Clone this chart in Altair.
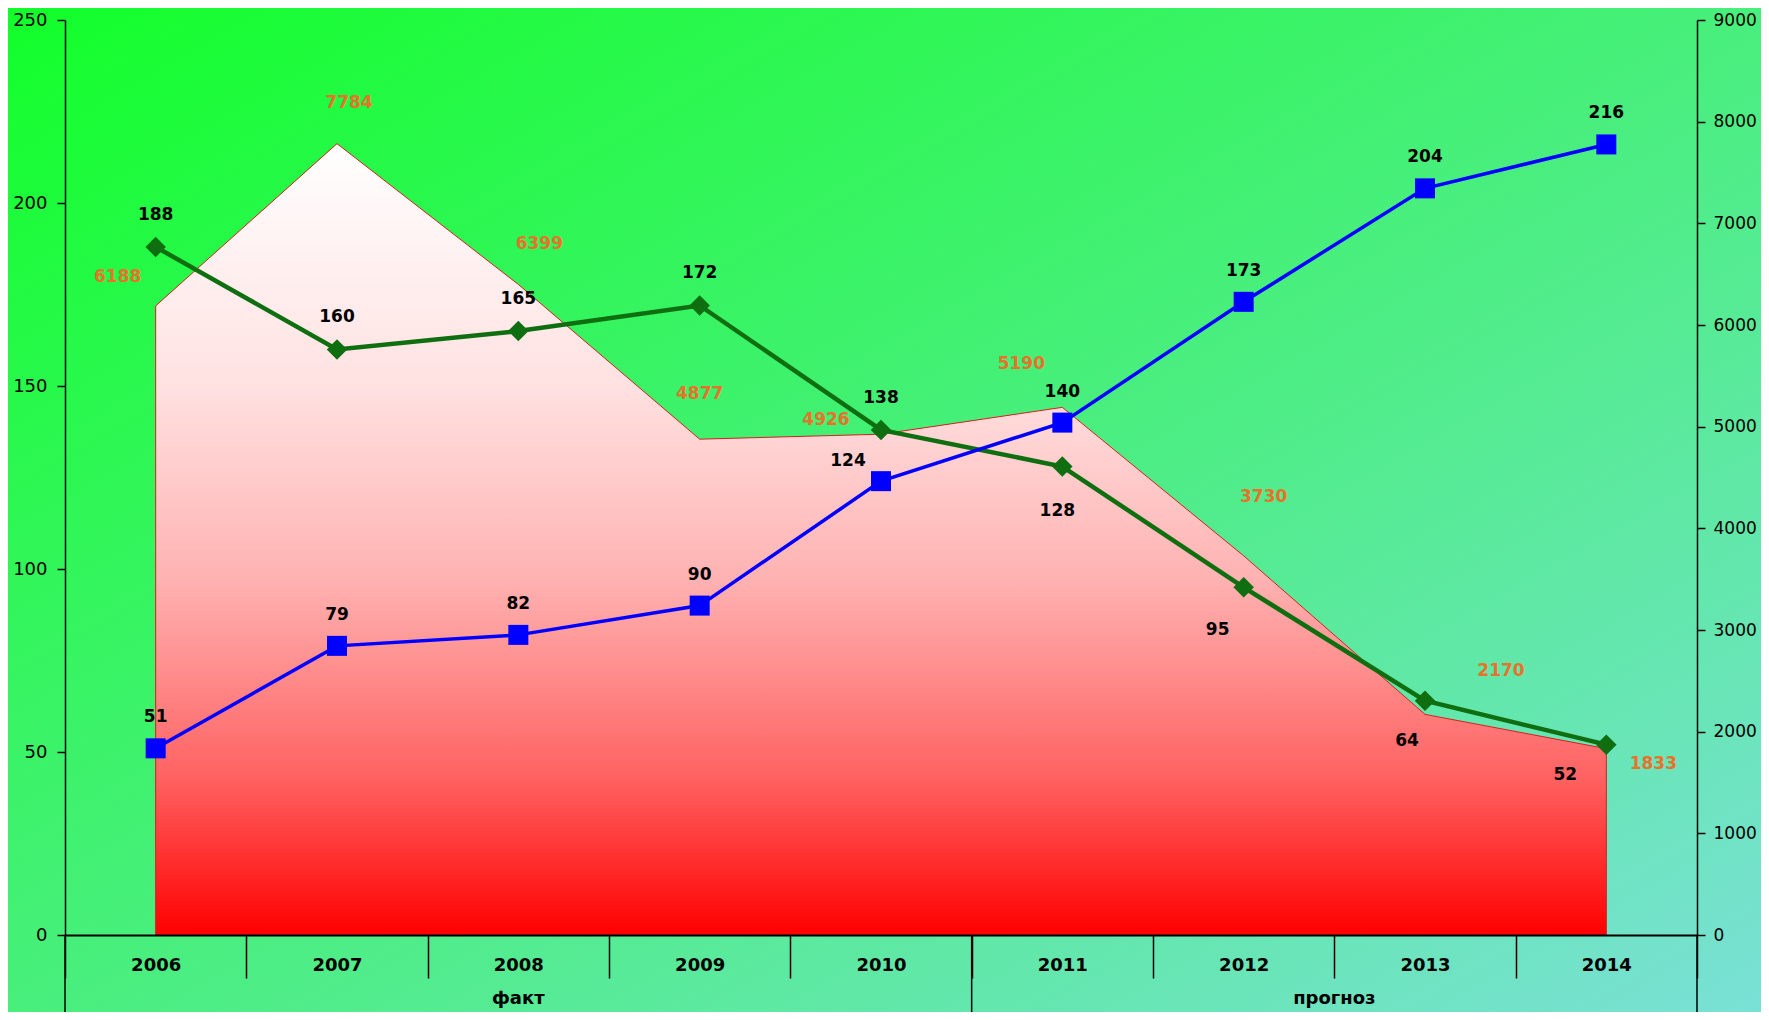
import altair as alt
import pandas as pd

# ---------------- data ----------------
years = ["2006", "2007", "2008", "2009", "2010", "2011", "2012", "2013", "2014"]
area_values = [6188, 7784, 6399, 4877, 4926, 5190, 3730, 2170, 1833]
blue_values = [51, 79, 82, 90, 124, 140, 173, 204, 216]
green_values = [188, 160, 165, 172, 138, 128, 95, 64, 52]
period_names = ["факт", "прогноз"]
left_ticks = [0, 50, 100, 150, 200, 250]
right_ticks = [0, 1000, 2000, 3000, 4000, 5000, 6000, 7000, 8000, 9000]

df = pd.DataFrame({"year": years, "area": area_values,
                   "blue": blue_values, "green": green_values})

# ---------------- layout / style ----------------
W, H = 1632, 915
PAD = {"left": 57, "top": 12, "right": 64, "bottom": 77}
FONT = "DejaVu Sans"
ORANGE = "#e8722a"
BLUE = "#0000ff"
GREEN = "#0f6e0f"

# label nudges (dx, dy) in pixels
blue_nudges = {"2010": (-33, -20)}
blue_default = (0, -31)
green_nudges = {"2011": (-5, 44), "2012": (-26, 43), "2013": (-18, 40), "2014": (-41, 30)}
green_default = (0, -32)
area_nudges = {"2006": (-38, -29), "2007": (12, -41), "2008": (21, -40), "2009": (0, -45),
               "2010": (-55, -14), "2011": (-41, -43), "2012": (20, -59),
               "2013": (76, -43), "2014": (47, 15)}
area_default = (0, -30)

x_axis = alt.Axis(orient="bottom", title=None, tickBand="extent", tickSize=43,
                  tickWidth=1.5, tickColor="black", domainColor="black", domainWidth=2,
                  labelAngle=0, labelFont=FONT, labelFontWeight="bold", labelFontSize=18,
                  labelColor="black", labelBaseline="middle", labelPadding=-13,
                  labelOverlap=False, grid=False, zindex=1)
x_scale = alt.Scale(type="band", domain=years, paddingInner=0, paddingOuter=0)


def xenc(band=0.5):
    return alt.X("year:O", scale=x_scale, bandPosition=band, axis=x_axis, title=None)


left_axis = alt.Axis(orient="left", title=None, values=left_ticks, tickSize=8,
                     tickColor="black", tickWidth=1.5, domainColor="black", domainWidth=1.5,
                     labelFont=FONT, labelFontSize=18, labelColor="black", format="d",
                     labelPadding=10, grid=False, zindex=1)
right_axis = alt.Axis(orient="right", title=None, values=right_ticks, tickSize=8,
                      tickColor="black", tickWidth=1.5, domainColor="black", domainWidth=1.5,
                      labelFont=FONT, labelFontSize=17, labelColor="black", format="d",
                      labelPadding=8, grid=False, zindex=1)
left_scale = alt.Scale(domain=[0, 250], nice=False, zero=True)
right_scale = alt.Scale(domain=[0, 9000], nice=False, zero=True)


def yleft(field):
    return alt.Y(f"{field}:Q", scale=left_scale, axis=left_axis, title=None)


def yright(field):
    return alt.Y(f"{field}:Q", scale=right_scale, axis=right_axis, title=None)


def label_layers(field, color, nudges, default, yfn):
    groups = {}
    for yr in years:
        groups.setdefault(nudges.get(yr, default), []).append(yr)
    out = []
    for (dx, dy), yrs in groups.items():
        out.append(
            alt.Chart(df)
            .transform_filter(alt.FieldOneOfPredicate(field="year", oneOf=yrs))
            .mark_text(dx=dx, dy=dy, font=FONT, fontWeight="bold", fontSize=17,
                       color=color, align="center", baseline="middle")
            .encode(x=xenc(), y=yfn(field), text=alt.Text(f"{field}:Q", format="d"))
        )
    return out


# ---------------- background ----------------
bg_gradient = alt.LinearGradient(
    gradient="linear", x1=0, y1=0, x2=1, y2=1,
    stops=[alt.GradientStop(color="#12ff2a", offset=0),
           alt.GradientStop(color="#48ef7c", offset=0.5),
           alt.GradientStop(color="#7ae0d6", offset=1)])
background = alt.Chart(pd.DataFrame({"k": [0]})).mark_rect(fill=bg_gradient, strokeWidth=0).encode(
    x=alt.value(-PAD["left"]), x2=alt.value(W + PAD["right"]),
    y=alt.value(-PAD["top"]), y2=alt.value(H + PAD["bottom"]))

# ---------------- area (right axis) ----------------
area_gradient = alt.LinearGradient(
    gradient="linear", x1=0, y1=0, x2=0, y2=1,
    stops=[alt.GradientStop(color="#ffffff", offset=0),
           alt.GradientStop(color="#ffe2e2", offset=0.3),
           alt.GradientStop(color="#ffb2b2", offset=0.55),
           alt.GradientStop(color="#ff6262", offset=0.8),
           alt.GradientStop(color="#ff0000", offset=1)])
area = alt.Chart(df).mark_area(fill=area_gradient, stroke="#d81e1e", strokeWidth=1,
                               opacity=1).encode(x=xenc(), y=yright("area"))
right_group = alt.layer(area, *label_layers("area", ORANGE, area_nudges, area_default, yright))

# ---------------- lines (left axis) ----------------
blue_line = alt.Chart(df).mark_line(color=BLUE, strokeWidth=3.5).encode(x=xenc(), y=yleft("blue"))
blue_pts = alt.Chart(df).mark_point(shape="square", filled=True, size=400, color=BLUE,
                                    opacity=1).encode(x=xenc(), y=yleft("blue"))
green_line = alt.Chart(df).mark_line(color=GREEN, strokeWidth=4.5).encode(x=xenc(), y=yleft("green"))
green_pts = alt.Chart(df).mark_point(shape="diamond", filled=True, size=420, color=GREEN,
                                     opacity=1).encode(x=xenc(), y=yleft("green"))
left_group = alt.layer(
    green_line, blue_line, green_pts, blue_pts,
    *label_layers("blue", "black", blue_nudges, blue_default, yleft),
    *label_layers("green", "black", green_nudges, green_default, yleft))

# ---------------- separators and group labels ----------------
sep_start = pd.DataFrame({"year": [years[0], years[5]]})
sep_end = pd.DataFrame({"year": [years[-1]]})
rule_start = alt.Chart(sep_start).mark_rule(color="black", strokeWidth=1.5).encode(
    x=xenc(0), y=alt.value(H), y2=alt.value(H + PAD["bottom"]))
rule_end = alt.Chart(sep_end).mark_rule(color="black", strokeWidth=1.5).encode(
    x=xenc(1), y=alt.value(H), y2=alt.value(H + PAD["bottom"]))

grp1 = alt.Chart(pd.DataFrame({"year": [years[2]], "name": [period_names[0]]})).mark_text(
    font=FONT, fontWeight="bold", fontSize=18, color="black", baseline="middle", align="center"
).encode(x=xenc(0.5), y=alt.value(H + 64), text="name:N")
grp2 = alt.Chart(pd.DataFrame({"year": [years[6]], "name": [period_names[1]]})).mark_text(
    font=FONT, fontWeight="bold", fontSize=18, color="black", baseline="middle", align="center"
).encode(x=xenc(1), y=alt.value(H + 64), text="name:N")

chart = alt.layer(
    background, right_group, rule_start, rule_end, left_group, grp1, grp2
).resolve_scale(y="independent").properties(
    width=W, height=H, padding=PAD,
    autosize=alt.AutoSizeParams(type="none"),
    background="#44ef78",
).configure_view(stroke=None)

chart.save("out.html", embed_options={"renderer": "svg", "actions": False})
